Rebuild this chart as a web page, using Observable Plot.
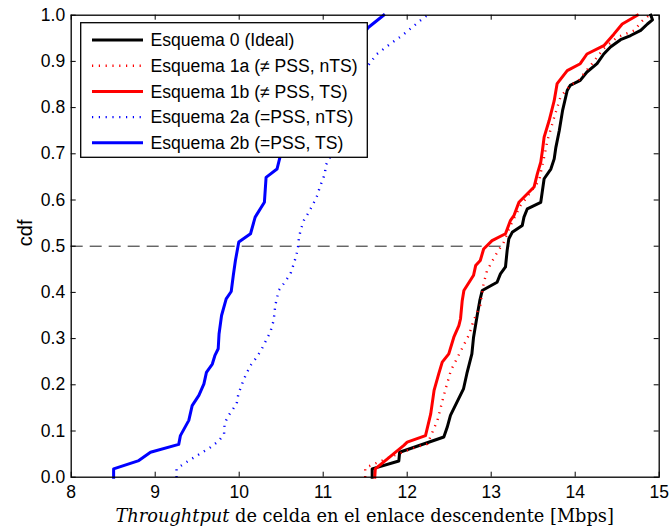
<!DOCTYPE html>
<html><head><meta charset="utf-8">
<script src="https://cdn.jsdelivr.net/npm/d3@7"></script>
<script src="https://cdn.jsdelivr.net/npm/@observablehq/plot@0.6"></script>
<style>
body{margin:0;background:#fff;}
#wrap{position:relative;width:670px;height:532px;}
</style></head><body><div id="wrap"></div>
<script>
// ---------- data ----------
const seriesNames = ["Esquema 0 (Ideal)", "Esquema 1a (≠ PSS, nTS)", "Esquema 1b (≠ PSS, TS)", "Esquema 2a (=PSS, nTS)", "Esquema 2b (=PSS, TS)"];

const x0 = [11.583, 11.583, 11.90, 11.91, 12.436, 12.476, 12.515, 12.67, 12.71, 12.77, 12.79, 12.833, 12.864, 12.893, 13.07, 13.11, 13.17, 13.19, 13.21, 13.25, 13.37, 13.39, 13.43, 13.59, 13.63, 13.71, 13.75, 13.77, 13.81, 13.85, 13.905, 13.94, 14.06, 14.14, 14.26, 14.34, 14.42, 14.54, 14.66, 14.78, 14.86, 14.92, 14.90];
const y0 = [0, 0.018, 0.035, 0.054, 0.087, 0.108, 0.134, 0.191, 0.224, 0.267, 0.303, 0.35, 0.382, 0.404, 0.422, 0.44, 0.455, 0.491, 0.516, 0.53, 0.545, 0.563, 0.581, 0.595, 0.646, 0.667, 0.689, 0.714, 0.75, 0.794, 0.837, 0.848, 0.859, 0.877, 0.895, 0.916, 0.931, 0.947, 0.956, 0.967, 0.981, 0.99, 1.0];

const x1a = [11.50, 11.50, 11.80, 12.12, 12.24, 12.36, 12.44, 12.52, 12.64, 12.74, 12.79, 12.87, 12.91, 12.95, 13.05, 13.15, 13.23, 13.35, 13.57, 13.63, 13.67, 13.75, 13.825, 13.94, 14.04, 14.20, 14.34, 14.50, 14.70, 14.80, 14.88];
const y1a = [0, 0.02, 0.044, 0.066, 0.072, 0.123, 0.18, 0.231, 0.274, 0.31, 0.339, 0.372, 0.419, 0.447, 0.48, 0.509, 0.545, 0.588, 0.642, 0.693, 0.729, 0.779, 0.823, 0.848, 0.859, 0.895, 0.928, 0.952, 0.967, 0.988, 1.0];

const x1b = [11.614, 11.62, 11.96, 12.0, 12.218, 12.28, 12.32, 12.376, 12.417, 12.495, 12.555, 12.615, 12.635, 12.655, 12.675, 12.79, 12.815, 12.87, 12.91, 13.01, 13.17, 13.23, 13.27, 13.33, 13.51, 13.55, 13.59, 13.61, 13.63, 13.69, 13.75, 13.785, 13.905, 14.06, 14.14, 14.34, 14.46, 14.56, 14.74];
const y1b = [0, 0.018, 0.069, 0.076, 0.09, 0.137, 0.188, 0.224, 0.249, 0.267, 0.303, 0.328, 0.343, 0.382, 0.404, 0.437, 0.458, 0.469, 0.494, 0.512, 0.527, 0.556, 0.566, 0.595, 0.628, 0.657, 0.682, 0.707, 0.736, 0.772, 0.815, 0.852, 0.88, 0.895, 0.916, 0.934, 0.959, 0.981, 1.0];

const x2a = [9.254, 9.254, 9.34, 9.50, 9.66, 9.76, 9.82, 9.825, 9.875, 9.97, 9.99, 10.035, 10.075, 10.135, 10.21, 10.27, 10.33, 10.37, 10.41, 10.43, 10.47, 10.53, 10.61, 10.65, 10.68, 10.70, 10.71, 10.73, 10.77, 10.83, 10.89, 10.93, 10.96, 10.99, 11.02, 11.03, 11.09, 11.15, 11.25, 11.35, 11.45, 11.58, 11.64, 11.80, 11.94, 12.06, 12.18, 12.24];
const y2a = [0, 0.018, 0.029, 0.047, 0.065, 0.079, 0.094, 0.116, 0.134, 0.159, 0.18, 0.202, 0.22, 0.242, 0.26, 0.278, 0.30, 0.314, 0.339, 0.372, 0.404, 0.419, 0.44, 0.462, 0.48, 0.498, 0.516, 0.534, 0.556, 0.574, 0.595, 0.61, 0.628, 0.642, 0.657, 0.675, 0.696, 0.73, 0.78, 0.83, 0.87, 0.902, 0.916, 0.938, 0.956, 0.974, 0.992, 1.0];

const x2b = [8.505, 8.505, 8.805, 8.944, 9.28, 9.30, 9.40, 9.44, 9.52, 9.58, 9.61, 9.68, 9.71, 9.75, 9.76, 9.79, 9.845, 9.905, 9.93, 9.955, 9.995, 10.135, 10.19, 10.30, 10.32, 10.45, 10.49, 10.60, 10.80, 11.00, 11.20, 11.40, 11.54, 11.72];
const y2b = [0, 0.018, 0.036, 0.054, 0.071, 0.09, 0.123, 0.155, 0.177, 0.202, 0.227, 0.245, 0.263, 0.278, 0.31, 0.35, 0.386, 0.402, 0.437, 0.469, 0.509, 0.527, 0.563, 0.595, 0.649, 0.667, 0.696, 0.74, 0.80, 0.85, 0.90, 0.94, 0.974, 1.0];

const xTicks = [8, 9, 10, 11, 12, 13, 14, 15];
const yTicks = [0, 0.1, 0.2, 0.3, 0.4, 0.5, 0.6, 0.7, 0.8, 0.9, 1];
const medianY = [0.5];
const medianX1 = [8];
const medianX2 = [13.22];
const xLabelItalic = "Throughtput";
const xLabelRest = " de celda en el enlace descendente [Mbps]";
const yLabel = "cdf";

// ---------- build ----------
const xs = [x0, x1a, x1b, x2a, x2b];
const ys = [y0, y1a, y1b, y2a, y2b];
const series = seriesNames.map((name, i) => xs[i].map((x, j) => ({series: name, x, y: ys[i][j]})));
const medianRows = medianY.map((y, i) => ({y, x1: medianX1[i], x2: medianX2[i]}));

const styles = [
  {stroke: "#000000", strokeWidth: 3, dash: null},
  {stroke: "#ff0000", strokeWidth: 2.4, dash: "1.2,5.6"},
  {stroke: "#ff0000", strokeWidth: 3, dash: null},
  {stroke: "#0000ff", strokeWidth: 2.4, dash: "1.2,5.6"},
  {stroke: "#0000ff", strokeWidth: 3, dash: null}
];

const W = 670, H = 532, mL = 70.7, mR = 11.3, mT = 14.7, mB = 55.3;
const innerW = W - mL - mR, innerH = H - mT - mB;
const tickLen = 5;
const sansFont = "'Liberation Sans', Arial, Helvetica, sans-serif";

const marks = [
  Plot.ruleY(medianRows, {y: "y", x1: "x1", x2: "x2", stroke: "#222", strokeWidth: 1, strokeDasharray: "12,7"}),
  ...series.map((data, i) => Plot.line(data, {
    x: "x", y: "y",
    stroke: styles[i].stroke,
    strokeWidth: styles[i].strokeWidth,
    strokeDasharray: styles[i].dash,
    strokeLinecap: styles[i].dash ? "butt" : "square",
    strokeLinejoin: "round"
  })),
  Plot.tickX(xTicks, {x: d => d, insetTop: innerH - tickLen, stroke: "#000"}),
  Plot.tickX(xTicks, {x: d => d, insetBottom: innerH - tickLen, stroke: "#000"}),
  Plot.tickY(yTicks, {y: d => d, insetRight: innerW - tickLen, stroke: "#000"}),
  Plot.tickY(yTicks, {y: d => d, insetLeft: innerW - tickLen, stroke: "#000"}),
  Plot.frame({stroke: "#000", strokeWidth: 1.3}),
  Plot.axisX(xTicks, {tickSize: 0, tickPadding: 8, label: null, fontSize: 17.5}),
  Plot.axisY(yTicks, {tickSize: 0, tickPadding: 6, label: null, fontSize: 17.5}),
  Plot.text([yLabel], {text: d => d, frameAnchor: "left", dx: -46, rotate: -90, fontSize: 20})
];

const chart = Plot.plot({
  width: W, height: H,
  marginLeft: mL, marginRight: mR, marginTop: mT, marginBottom: mB,
  x: {domain: [xTicks[0], xTicks[xTicks.length - 1]]},
  y: {domain: [yTicks[0], yTicks[yTicks.length - 1]]},
  style: {fontFamily: sansFont, fontSize: "17px", color: "#000", background: "#fff", overflow: "visible"},
  marks
});
document.getElementById("wrap").appendChild(chart);

// x label with mixed italic (serif, like LaTeX)
const svg = d3.select(chart);
const xl = svg.append("text")
  .attr("x", mL + innerW / 2)
  .attr("y", H - 10)
  .attr("text-anchor", "middle")
  .attr("font-family", "'DejaVu Serif', 'Liberation Serif', serif")
  .attr("font-size", 17.8)
  .attr("fill", "#000");
xl.append("tspan").attr("font-style", "italic").text(xLabelItalic);
xl.append("tspan").text(xLabelRest);

// legend overlay
const legLeft = 80, legTop = 22, legW = 287, legH = 135;
const leg = d3.select("#wrap").append("svg")
  .style("position", "absolute").style("left", legLeft + "px").style("top", legTop + "px")
  .attr("width", legW + 2).attr("height", legH + 2);
leg.append("rect").attr("x", 0.7).attr("y", 0.7).attr("width", legW - 0.4).attr("height", legH - 0.4)
  .attr("fill", "#fff").attr("stroke", "#000").attr("stroke-width", 1.3);
seriesNames.forEach((name, i) => {
  const cy = 18 + i * 25.7;
  leg.append("line").attr("x1", 12).attr("x2", 63).attr("y1", cy).attr("y2", cy)
    .attr("stroke", styles[i].stroke).attr("stroke-width", styles[i].strokeWidth)
    .attr("stroke-dasharray", styles[i].dash);
  leg.append("text").attr("x", 70.5).attr("y", cy).attr("dy", "0.36em")
    .attr("font-family", sansFont).attr("font-size", 17.6).attr("fill", "#000").text(name);
});
</script></body></html>
